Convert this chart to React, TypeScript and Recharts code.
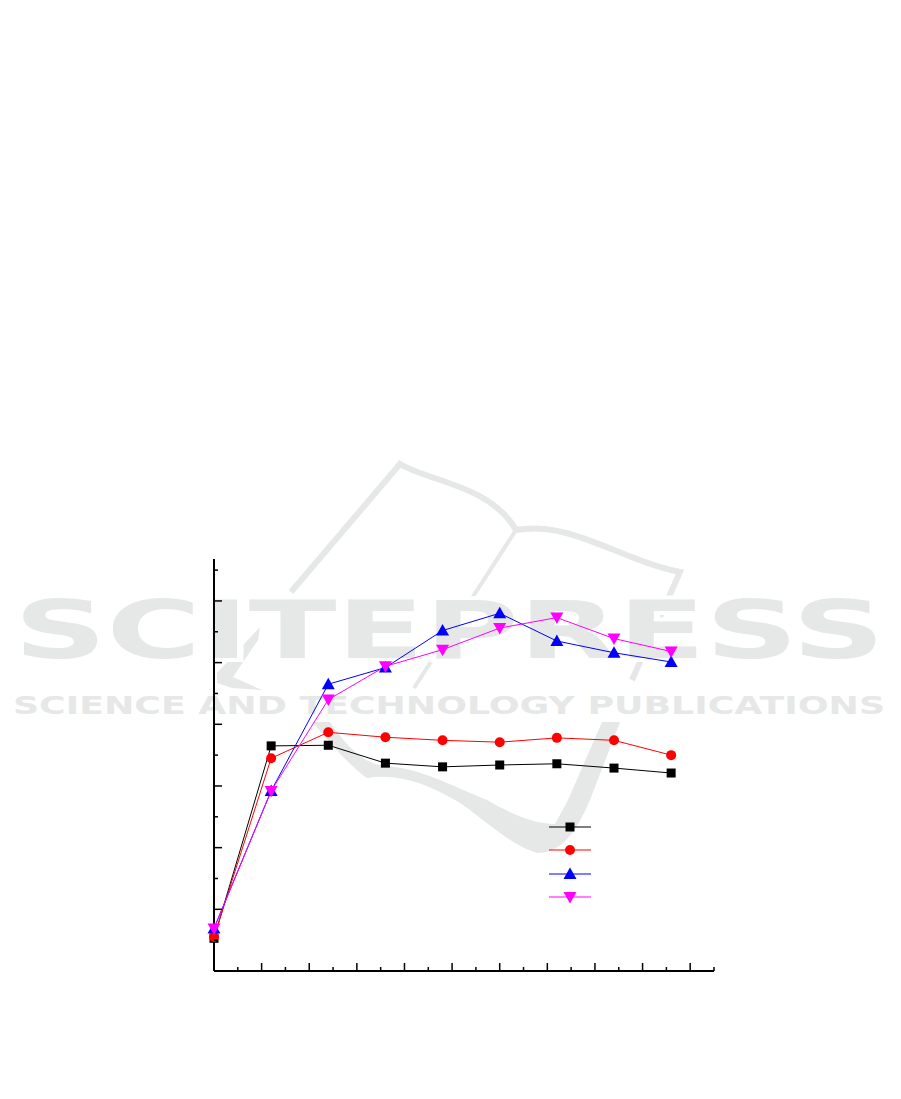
import React from 'react';
import { LineChart, Line, XAxis, YAxis, Legend } from 'recharts';

const xValues = [0, 12, 24, 36, 48, 60, 72, 84, 96];
const seriesA = [5.3, 36.5, 36.6, 33.7, 33.1, 33.4, 33.6, 32.9, 32.1];
const seriesB = [5.5, 34.5, 38.7, 37.9, 37.4, 37.1, 37.8, 37.4, 35.0];
const seriesC = [6.9, 29.2, 46.5, 49.2, 55.2, 58.0, 53.5, 51.6, 50.1];
const seriesD = [6.9, 29.2, 44.0, 49.4, 52.1, 55.6, 57.3, 53.9, 51.8];
const xTicks = [0, 5, 10, 15, 20, 25, 30, 35, 40, 45, 50, 55, 60, 65, 70, 75, 80, 85, 90, 95, 100, 105];
const yTicks = [0, 5, 10, 15, 20, 25, 30, 35, 40, 45, 50, 55, 60, 65];

const tableData = xValues.map((x, i) => ({
  x,
  a: seriesA[i],
  b: seriesB[i],
  c: seriesC[i],
  d: seriesD[i],
}));

const Marker = ({ cx, cy, kind, color }: any) => {
  if (kind === 'square') return <rect x={cx - 4.5} y={cy - 4.5} width={9} height={9} fill={color} />;
  if (kind === 'circle') return <circle cx={cx} cy={cy} r={5} fill={color} />;
  if (kind === 'up') return <polygon points={`${cx - 6.5},${cy + 5} ${cx + 6.5},${cy + 5} ${cx},${cy - 6.5}`} fill={color} />;
  return <polygon points={`${cx - 6.5},${cy - 5} ${cx + 6.5},${cy - 5} ${cx},${cy + 6.5}`} fill={color} />;
};

const seriesInfo = [
  { key: 'a', kind: 'square', color: '#000000' },
  { key: 'b', kind: 'circle', color: '#ff0000' },
  { key: 'c', kind: 'up', color: '#0000ff' },
  { key: 'd', kind: 'down', color: '#ff00ff' },
];

const XTick = ({ x, y, payload }: any) => {
  const major = payload.value % 10 === 0;
  return <line x1={x} x2={x} y1={y} y2={y - (major ? 8 : 4)} stroke="#000" strokeWidth={1.5} />;
};

const YTick = ({ x, y, payload }: any) => {
  const major = payload.value % 10 === 0;
  return <line x1={x} x2={x + (major ? 8 : 4)} y1={y} y2={y} stroke="#000" strokeWidth={1.5} />;
};

const LegendBox = () => (
  <svg width={60} height={90} style={{ display: 'block' }}>
    {seriesInfo.map((s, i) => {
      const y = [10, 33, 57, 80][i];
      return (
        <g key={s.key}>
          <line x1={9} x2={51} y1={y} y2={y} stroke={s.color} strokeWidth={1} />
          <Marker cx={30} cy={y} kind={s.kind} color={s.color} />
        </g>
      );
    })}
  </svg>
);

// grey publisher mark behind the plot
const Watermark = () => (
  <svg width={901} height={1099} style={{ position: 'absolute', left: 0, top: 0 }}>
    <g fill="none" stroke="#e6e7e7" strokeLinejoin="miter">
      <path d="M291 592 L400 464 C430 482 490 485 516 530 C570 520 620 560 680 572 L632 680" strokeWidth={6} />
      <path d="M516 530 L414 688" strokeWidth={4} />
    </g>
    <g fill="#e6e7e7">
      <path d="M260 627 L217 673 L217 683 L232 688 L262 690 L233 677 L258 640 Z" />
      <path d="M313 722 L330 722 C345 745 365 765 385 766 C420 768 450 785 487 800 C510 813 530 823 555 824 L568 800 L602 722 L620 722 L590 800 C575 835 560 853 537 853 C510 845 485 820 460 803 C430 785 400 773 367 778 C355 770 330 745 313 722 Z" />
    </g>
    <g
      fill="#e6e7e7"
      stroke="#ffffff"
      strokeWidth={8}
      paintOrder="stroke"
      fontFamily="'DejaVu Sans', sans-serif"
      fontWeight="bold"
    >
      <text x={14} y={658} fontSize={80} textLength={871} lengthAdjust="spacingAndGlyphs">SCITEPRESS</text>
      <text x={13} y={714} fontSize={25} textLength={872} lengthAdjust="spacingAndGlyphs">SCIENCE AND TECHNOLOGY PUBLICATIONS</text>
    </g>
  </svg>
);

const App = () => (
  <div style={{ position: 'absolute', left: 0, top: 0, width: 901, height: 1099, background: '#fff' }}>
    <Watermark />
    <div style={{ position: 'absolute', left: 0, top: 0 }}>
      <LineChart
        width={901}
        height={1099}
        data={tableData}
        margin={{ left: 213, right: 187, top: 559, bottom: 127 }}
      >
        <XAxis
          dataKey="x"
          type="number"
          domain={[0, 105]}
          ticks={xTicks}
          interval={0}
          height={1}
          tickSize={0}
          tickMargin={0}
          tickLine={false}
          tick={<XTick />}
          axisLine={{ stroke: '#000', strokeWidth: 2 }}
        />
        <YAxis
          type="number"
          domain={[0, 66.8]}
          ticks={yTicks}
          interval={0}
          width={1}
          tickSize={0}
          tickMargin={0}
          tickLine={false}
          tick={<YTick />}
          axisLine={{ stroke: '#000', strokeWidth: 2 }}
        />
        {seriesInfo.map((s) => (
          <Line
            key={s.key}
            dataKey={s.key}
            stroke={s.color}
            strokeWidth={1}
            type="linear"
            isAnimationActive={false}
            dot={(p: any) => <Marker key={p.index} cx={p.cx} cy={p.cy} kind={s.kind} color={s.color} />}
          />
        ))}
        <Legend
          content={<LegendBox />}
          layout="horizontal"
          verticalAlign="middle"
          align="center"
          wrapperStyle={{ position: 'absolute', left: 540, top: 817, width: 60, height: 90 }}
        />
      </LineChart>
    </div>
  </div>
);

export default App;
